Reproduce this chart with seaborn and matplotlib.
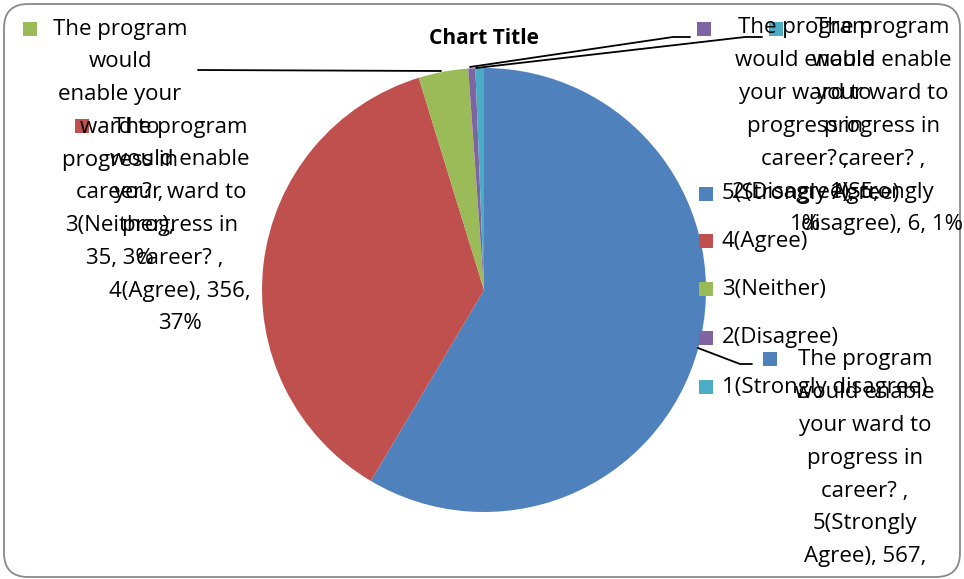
import matplotlib
matplotlib.use("Agg")
import matplotlib.pyplot as plt
from matplotlib.patches import Rectangle, FancyBboxPatch
from matplotlib.lines import Line2D
import seaborn as sns

# ---- data ----
categories = ["5(Strongly Agree)", "4(Agree)", "3(Neither)", "2(Disagree)", "1(Strongly disagree)"]
values = [567, 356, 35, 5, 6]
pct_text = ["59%", "37%", "3%", "1%", "1%"]
question = "The program would enable your ward to progress in career?"
title = "Chart Title"
colors = ["#4F81BD", "#C0504D", "#9BBB59", "#8064A2", "#4BACC6"]

sns.set_theme(style="white")
plt.rcParams['font.family'] = ['Open Sans', 'DejaVu Sans']
palette = sns.color_palette(colors)

W, H = 964, 579
fig = plt.figure(figsize=(W / 100, H / 100), dpi=100)
fig.patch.set_facecolor("white")

def fx(x):
    return x / W

def fy(y):
    return 1 - y / H

# chart border
border = FancyBboxPatch((fx(4), fy(577)), fx(956), 573 / H,
                        boxstyle="round,pad=0,rounding_size=0.025",
                        transform=fig.transFigure, facecolor="none",
                        edgecolor="#898989", linewidth=1.3, zorder=0,
                        mutation_aspect=W / H)
fig.patches.append(border)

# pie axes (centre 484,290, radius 222 px)
cx, cy, r = 484, 290, 222
ax = fig.add_axes([fx(cx - r), fy(cy + r), 2 * r / W, 2 * r / H])
ax.pie(values, colors=palette, startangle=90, counterclock=False, radius=1,
       wedgeprops=dict(linewidth=0))
ax.set_xlim(-1, 1)
ax.set_ylim(-1, 1)
ax.axis("off")

FS = 16
LS = 32.8

def label_block(lines, xc, y0, sq=None, color=None):
    for i, t in enumerate(lines):
        fig.text(fx(xc), fy(y0 + i * LS), t, ha="center", va="center",
                 fontsize=FS, color="black")
    if sq is not None:
        x0, yy = sq
        fig.patches.append(Rectangle((fx(x0), fy(yy + 14)), 14 / W, 14 / H,
                                     transform=fig.transFigure,
                                     facecolor=color, edgecolor="none"))

def line(pts):
    xs = [fx(p[0]) for p in pts]
    ys = [fy(p[1]) for p in pts]
    fig.lines.append(Line2D(xs, ys, transform=fig.transFigure, color="black",
                            linewidth=1.3))

# title
fig.text(fx(484), fy(39), title, ha="center", va="center", fontsize=15,
         fontweight="bold", color="black")

# leader lines
line([(198, 70), (441, 71)])
line([(470, 67), (673, 37), (690, 37)])
line([(476, 68), (745, 37), (762, 37)])
line([(698, 348), (740, 364), (752, 364)])

q_lines = ["The program", "would enable", "your ward to", "progress in", "career? ,"]

# green (3 Neither)
label_block(["The program", "would", "enable your", "ward to", "progress in",
             "career? ,", categories[2] + ",", f"{values[2]}, {pct_text[2]}"],
            120, 29, sq=(23, 22), color=palette[2])
# red (4 Agree)
label_block(q_lines + [f"{categories[1]}, {values[1]},", pct_text[1]],
            180, 127, sq=(75, 119), color=palette[1])
# purple (2 Disagree)
label_block(q_lines + [f"{categories[3]}, {values[3]},", pct_text[3]],
            805, 28, sq=(697, 22), color=palette[3])
# cyan (1 Strongly disagree)
label_block(q_lines + ["1(Strongly", f"disagree), {values[4]}, {pct_text[4]}"],
            882, 28, sq=(769, 22), color=palette[4])

# legend
leg_y = [194, 241, 289, 338, 387]
for cat, col, yy in zip(categories, palette, leg_y):
    fig.patches.append(Rectangle((fx(699), fy(yy + 7)), 14 / W, 14 / H,
                                 transform=fig.transFigure,
                                 facecolor=col, edgecolor="none"))
    fig.text(fx(722), fy(yy), cat, ha="left", va="center", fontsize=FS,
             color="black")

# blue (5 Strongly Agree) – drawn last, over the legend
label_block(q_lines + ["5(Strongly", f"Agree), {values[0]},", pct_text[0]],
            865, 360, sq=(763, 352), color=palette[0])

fig.savefig("out.png", dpi=100)
